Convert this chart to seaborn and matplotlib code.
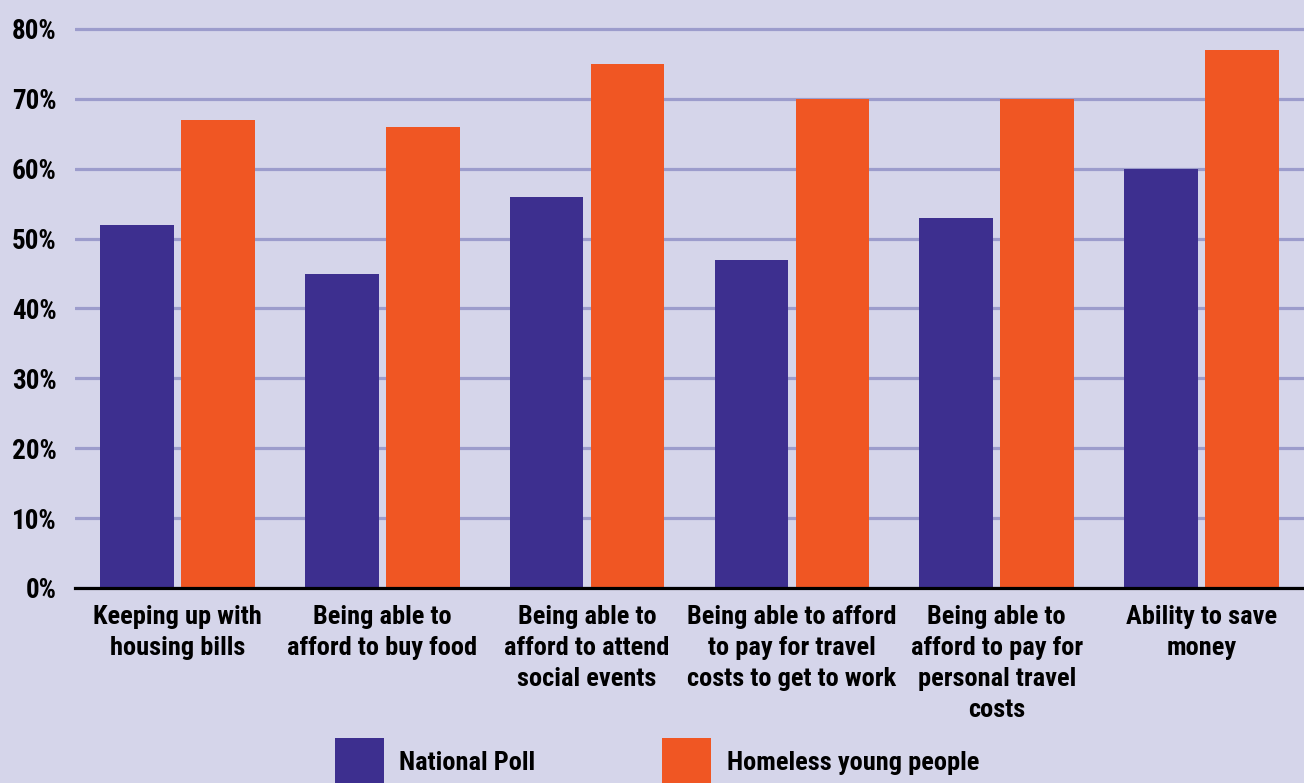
import matplotlib
matplotlib.use("Agg")
import matplotlib.pyplot as plt
from matplotlib import font_manager
import seaborn as sns
import pandas as pd

categories = [
    "Keeping up with\nhousing bills",
    "Being able to\nafford to buy food",
    "Being able to\nafford to attend\nsocial events",
    "Being able to afford\nto pay for travel\ncosts to get to work",
    "Being able to\nafford to pay for\npersonal travel\ncosts",
    "Ability to save\nmoney",
]
series_names = ["National Poll", "Homeless young people"]
national_poll = [52, 45, 56, 47, 53, 60]
homeless_young = [67, 66, 75, 70, 70, 77]
yticks = [0, 10, 20, 30, 40, 50, 60, 70, 80]

df = pd.DataFrame({
    "category": categories * 2,
    "series": [series_names[0]] * len(categories) + [series_names[1]] * len(categories),
    "value": national_poll + homeless_young,
})

sns.set_theme(style="white")
available = {f.name for f in font_manager.fontManager.ttflist}
family = "DejaVu Sans"
for cand in ["Liberation Sans Narrow", "Roboto Condensed", "Roboto", "Liberation Sans"]:
    if cand in available:
        family = cand
        break
plt.rcParams["font.family"] = [family, "DejaVu Sans"]
plt.rcParams["text.color"] = "black"

bg = "#d5d5ea"
colors = {"National Poll": "#3d2f8f", "Homeless young people": "#f05623"}

fig = plt.figure(figsize=(13.04, 7.83), dpi=100)
fig.patch.set_facecolor(bg)
ax = fig.add_axes([75 / 1304, (783 - 588) / 783, 1229 / 1304, 588 / 783])
ax.set_facecolor(bg)

sns.barplot(data=df, x="category", y="value", hue="series", palette=colors,
            width=0.79, gap=0.09, saturation=1, linewidth=0, edgecolor="none",
            ax=ax, zorder=3)

ax.set_xlim(-0.5, 5.5)
ax.set_ylim(0, 84.15)
ax.set_yticks(yticks)
ax.set_yticklabels([f"{v}%" for v in yticks])
ax.set_xlabel("")
ax.set_ylabel("")
ax.yaxis.grid(True, color="#9c9ccc", linewidth=2.3, zorder=0)
ax.set_axisbelow(True)
for s in ["top", "right", "left"]:
    ax.spines[s].set_visible(False)
ax.spines["bottom"].set_color("black")
ax.spines["bottom"].set_linewidth(2.3)
ax.spines["bottom"].set_zorder(4)
ax.tick_params(axis="both", length=0)
ax.tick_params(axis="y", pad=13, labelsize=19.5, labelcolor="black")
ax.tick_params(axis="x", pad=12, labelsize=19, labelcolor="black")
for lbl in ax.get_yticklabels() + ax.get_xticklabels():
    lbl.set_fontweight("bold")
for lbl in ax.get_xticklabels():
    lbl.set_linespacing(1.38)

handles, labels = ax.get_legend_handles_labels()
ax.legend(handles, labels, loc="lower left", bbox_to_anchor=(311 / 1304, -0.035),
          bbox_transform=fig.transFigure, ncol=2, frameon=False,
          handlelength=1.85, handleheight=2.45, handletextpad=0.6,
          columnspacing=4.8, labelcolor="black",
          prop={"weight": "bold", "size": 19})

fig.savefig("out.png", dpi=100, facecolor=bg)
